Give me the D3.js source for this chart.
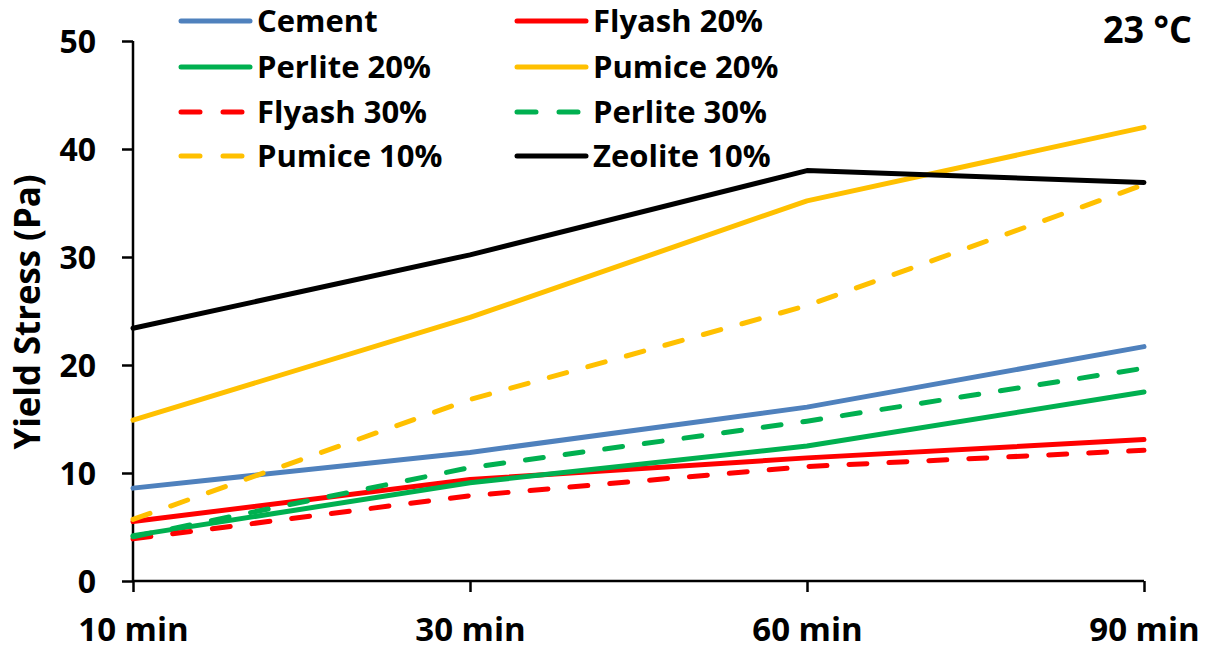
<!DOCTYPE html>
<html>
<head>
<meta charset="utf-8">
<script src="https://cdn.jsdelivr.net/npm/d3@7"></script>
<style>
  html, body { margin: 0; padding: 0; background: #fff; }
  svg text { font-family: "Open Sans", "Liberation Sans", sans-serif; font-weight: bold; fill: #000; }
</style>
</head>
<body>
<svg id="chart" width="1208" height="651"></svg>
<script>
// Measurement times (x categories)
const times = ["10 min", "30 min", "60 min", "90 min"];
const yTicks = [0, 10, 20, 30, 40, 50];

// Yield stress (Pa) per mix
const cement     = [8.6, 11.9, 16.1, 21.7];
const flyash20   = [5.5, 9.4, 11.4, 13.1];
const perlite20  = [4.2, 9.1, 12.5, 17.5];
const pumice20   = [14.9, 24.4, 35.2, 42.0];
const flyash30   = [3.9, 7.9, 10.6, 12.1];
const perlite30  = [4.1, 10.5, 14.8, 19.7];
const pumice10   = [5.7, 16.8, 25.5, 36.7];
const zeolite10  = [23.4, 30.2, 38.0, 36.9];

const seriesNames = ["Cement", "Flyash 20%", "Perlite 20%", "Pumice 20%",
                     "Flyash 30%", "Perlite 30%", "Pumice 10%", "Zeolite 10%"];
const seriesValues = [cement, flyash20, perlite20, pumice20,
                      flyash30, perlite30, pumice10, zeolite10];
const seriesColors = ["#4F81BD", "#FF0000", "#00B050", "#FFC000",
                      "#FF0000", "#00B050", "#FFC000", "#000000"];
const seriesDashed = [false, false, false, false, true, true, true, false];

const series = seriesNames.map((name, i) => ({
  name, values: seriesValues[i], color: seriesColors[i], dashed: seriesDashed[i]
}));

const svg = d3.select("#chart");
const plotLeft = 133, plotRight = 1144, plotTop = 41, plotBottom = 581;
const dash = "18,22";

const x = d3.scalePoint().domain(times).range([plotLeft, plotRight]);
const y = d3.scaleLinear().domain([0, 50]).range([plotBottom, plotTop]);

// Axes
const yAxis = svg.append("g")
  .attr("transform", `translate(${plotLeft},0)`)
  .call(d3.axisLeft(y).tickValues(yTicks).tickSize(11).tickPadding(26));
const xAxis = svg.append("g")
  .attr("transform", `translate(0,${plotBottom})`)
  .call(d3.axisBottom(x).tickSize(11).tickPadding(26));

[yAxis, xAxis].forEach(g => {
  g.select(".domain").attr("stroke", "#000").attr("stroke-width", 2.5);
  g.selectAll(".tick line").attr("stroke", "#000").attr("stroke-width", 2.5);
  g.selectAll(".tick text").attr("fill", "#000");
});
yAxis.selectAll(".tick text").style("font-size", "32px").attr("dy", "0.36em");
xAxis.selectAll(".tick text").style("font-size", "33px").attr("dy", "0.71em");
// Plain domain lines without outer tick stubs
yAxis.select(".domain").attr("d", `M0,${plotBottom}V${plotTop}`);
xAxis.select(".domain").attr("d", `M${plotLeft},0H${plotRight}`);

// Y axis title
svg.append("text")
  .attr("transform", `translate(40,${312}) rotate(-90)`)
  .attr("text-anchor", "middle")
  .attr("textLength", 275)
  .attr("lengthAdjust", "spacingAndGlyphs")
  .style("font-size", "35px")
  .text("Yield Stress (Pa)");

// Temperature label
svg.append("text")
  .attr("x", 1103).attr("y", 43)
  .attr("textLength", 89)
  .attr("lengthAdjust", "spacingAndGlyphs")
  .style("font-size", "38px")
  .text("23 °C");

// Lines
const line = d3.line()
  .x((d, i) => x(times[i]))
  .y(d => y(d));

series.forEach(s => {
  svg.append("path")
    .datum(s.values)
    .attr("fill", "none")
    .attr("stroke", s.color)
    .attr("stroke-width", 5)
    .attr("stroke-linecap", "round")
    .attr("stroke-linejoin", "round")
    .attr("stroke-dasharray", s.dashed ? dash : null)
    .attr("d", line);
});

// Legend: two columns, four rows
const legendCols = [179, 515];
const legendRows = [21, 67, 112, 156];
const legend = svg.append("g");
series.forEach((s, i) => {
  const cx = legendCols[i % 2];
  const cy = legendRows[Math.floor(i / 2)];
  const g = legend.append("g").attr("transform", `translate(${cx},${cy})`);
  g.append("line")
    .attr("x1", 2).attr("x2", 71).attr("y1", 0).attr("y2", 0)
    .attr("stroke", s.color)
    .attr("stroke-width", 5)
    .attr("stroke-linecap", "round")
    .attr("stroke-dasharray", s.dashed ? "19,23" : null);
  g.append("text")
    .attr("x", 78).attr("y", 0).attr("dy", "0.35em")
    .style("font-size", "31px")
    .text(s.name);
});
</script>
</body>
</html>
